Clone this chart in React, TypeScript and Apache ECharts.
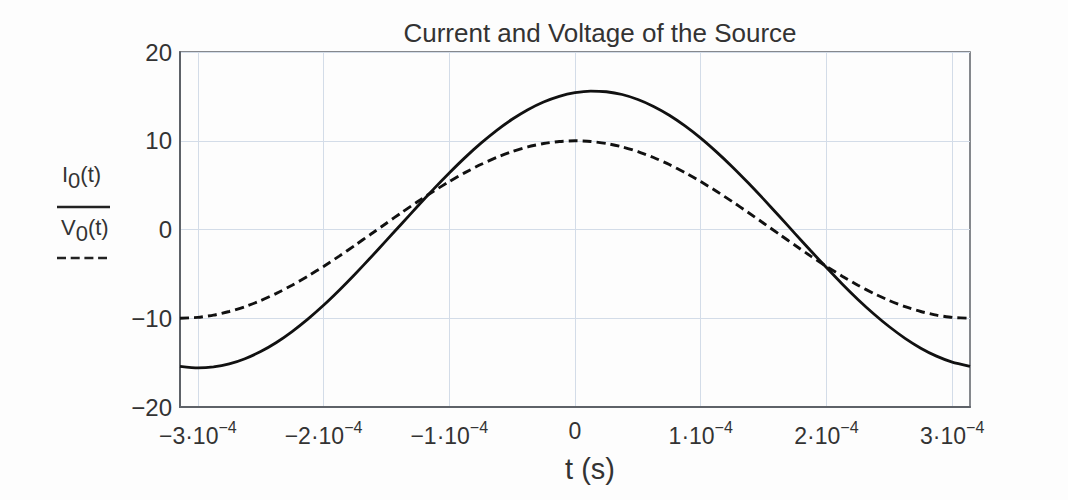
import React, { useEffect, useRef } from "react";
import * as echarts from "echarts";

// time, in units of 10^-4 s
const timeE4 = [
  -3.1416, -3.0, -2.875, -2.75, -2.625, -2.5, -2.375, -2.25, -2.125, -2.0, -1.875, -1.75, -1.625,
  -1.5, -1.375, -1.25, -1.125, -1.0, -0.875, -0.75, -0.625, -0.5, -0.375, -0.25, -0.125, 0,
  0.125, 0.25, 0.375, 0.5, 0.625, 0.75, 0.875, 1.0, 1.125, 1.25, 1.375, 1.5, 1.625, 1.75,
  1.875, 2.0, 2.125, 2.25, 2.375, 2.5, 2.625, 2.75, 2.875, 3.0, 3.1416,
];
// I0(t), solid
const currentValues = [
  -15.42, -15.6, -15.49, -15.15, -14.56, -13.75, -12.73, -11.5, -10.1, -8.54, -6.84, -5.04, -3.16,
  -1.23, 0.71, 2.65, 4.55, 6.37, 8.1, 9.7, 11.15, 12.42, 13.5, 14.37, 15.01, 15.42,
  15.6, 15.52, 15.21, 14.65, 13.87, 12.88, 11.68, 10.3, 8.75, 7.08, 5.29, 3.42, 1.49, -0.46,
  -2.4, -4.29, -6.14, -7.88, -9.49, -10.96, -12.26, -13.37, -14.27, -14.94, -15.42,
];
// V0(t), dashed
const voltageValues = [
  -10, -9.9, -9.65, -9.24, -8.7, -8.01, -7.2, -6.28, -5.26, -4.16, -3.0, -1.78, -0.54,
  0.71, 1.95, 3.15, 4.31, 5.4, 6.41, 7.32, 8.11, 8.78, 9.31, 9.69, 9.92, 10,
  9.92, 9.69, 9.31, 8.78, 8.11, 7.32, 6.41, 5.4, 4.31, 3.15, 1.95, 0.71, -0.54, -1.78,
  -3.0, -4.16, -5.26, -6.28, -7.2, -8.01, -8.7, -9.24, -9.65, -9.9, -10,
];
const xTickValues = [-3, -2, -1, 0, 1, 2, 3];
const xTickMantissas = ["−3·10", "−2·10", "−1·10", "0", "1·10", "2·10", "3·10"];
const xTickExponents = ["−4", "−4", "−4", "", "−4", "−4", "−4"];
const yTickValues = [-20, -10, 0, 10, 20];

const FONT = "'Liberation Sans', Arial, Helvetica, sans-serif";
const TEXT = "#333333";

export default function App() {
  const ref = useRef<HTMLDivElement>(null);
  useEffect(() => {
    if (!ref.current) return;
    const chart = echarts.init(ref.current, null, { renderer: "svg" });
    const axisColor = "#5e6268";
    const gridColor = "#d3dce8";
    const legendRich = {
      a: { fontFamily: FONT, fontSize: 22, fill: TEXT },
      s: { fontFamily: FONT, fontSize: 22, fill: TEXT, padding: [13, 0, 0, 0] },
    };
    chart.setOption({
      animation: false,
      backgroundColor: "#fdfdfd",
      title: {
        text: "Current and Voltage of the Source",
        left: 595,
        top: 15,
        textAlign: "center",
        textStyle: { fontFamily: FONT, fontSize: 26, fontWeight: "normal", color: TEXT },
      },
      grid: {
        left: 180,
        right: 98,
        top: 52,
        bottom: 93,
        show: true,
        borderColor: axisColor,
        borderWidth: 1.5,
        backgroundColor: "transparent",
      },
      xAxis: {
        type: "value",
        min: -3.1416,
        max: 3.1416,
        name: "t (s)",
        nameLocation: "middle",
        nameGap: 47,
        nameTextStyle: { fontFamily: FONT, fontSize: 29, color: "#333", padding: [0, 0, 0, 30] },
        axisLine: { show: true, onZero: false, lineStyle: { color: axisColor, width: 2 } },
        axisTick: { show: false, customValues: xTickValues },
        splitLine: { show: true, lineStyle: { color: gridColor, width: 1 } },
        axisLabel: {
          customValues: xTickValues,
          margin: 12,
          formatter: (v: number) => {
            const i = xTickValues.findIndex((x) => Math.abs(x - v) < 1e-9);
            if (i < 0) return "";
            if (!xTickExponents[i]) return `{b|${xTickMantissas[i]}}`;
            return `{b|${xTickMantissas[i]}}{s|${xTickExponents[i]}}`;
          },
          rich: {
            b: { fontFamily: FONT, fontSize: 23, color: TEXT },
            s: { fontFamily: FONT, fontSize: 16, color: TEXT, padding: [0, 0, 17, 0] },
          },
        },
      },
      yAxis: {
        type: "value",
        min: -20,
        max: 20,
        interval: 10,
        axisLine: { show: true, onZero: false, lineStyle: { color: axisColor, width: 2 } },
        axisTick: { show: false },
        splitLine: { show: true, lineStyle: { color: gridColor, width: 1 } },
        axisLabel: {
          margin: 8,
          fontFamily: FONT,
          fontSize: 24,
          color: TEXT,
          formatter: (v: number) =>
            yTickValues.includes(v) ? (v < 0 ? "−" + Math.abs(v) : String(v)) : "",
        },
      },
      graphic: [
        {
          type: "text",
          left: 62,
          top: 163,
          style: { text: "{a|I}{s|0}{a|(t)}", rich: legendRich },
        },
        {
          type: "line",
          shape: { x1: 57, y1: 207, x2: 110, y2: 207 },
          style: { stroke: "#222", lineWidth: 2.5 },
        },
        {
          type: "text",
          left: 61,
          top: 216,
          style: { text: "{a|V}{s|0}{a|(t)}", rich: legendRich },
        },
        {
          type: "line",
          shape: { x1: 57, y1: 258, x2: 107, y2: 258 },
          style: { stroke: "#222", lineWidth: 2.5, lineDash: [9, 4.7] },
        },
      ],
      series: [
        {
          name: "I0(t)",
          type: "line",
          smooth: 0.2,
          showSymbol: false,
          data: timeE4.map((t, i) => [t, currentValues[i]]),
          lineStyle: { color: "#111", width: 2.8 },
        },
        {
          name: "V0(t)",
          type: "line",
          smooth: 0.2,
          showSymbol: false,
          data: timeE4.map((t, i) => [t, voltageValues[i]]),
          lineStyle: { color: "#111", width: 2.9, type: [9, 5] },
        },
      ],
    });
    return () => chart.dispose();
  }, []);
  return (
    <div
      ref={ref}
      style={{ position: "fixed", left: 0, top: 0, width: 1068, height: 500 }}
    />
  );
}
